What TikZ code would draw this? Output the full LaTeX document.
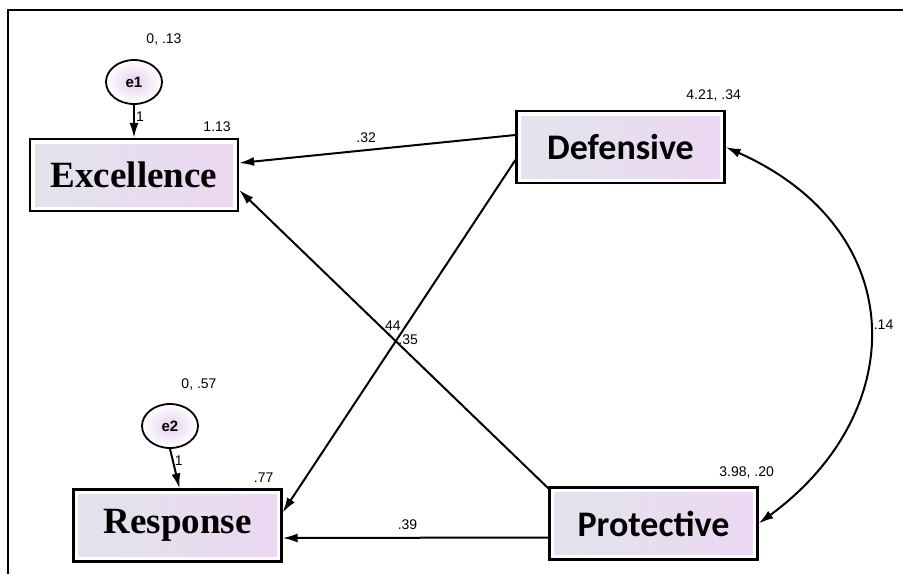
\documentclass[tikz,border=0pt]{standalone}
\usepackage{fontspec}
\setmainfont{Liberation Sans}
\newfontfamily\serifbf{Liberation Serif}
\newfontfamily\calibribf{Carlito}
\usetikzlibrary{positioning,arrows.meta,shapes.geometric}
\definecolor{boxleft}{HTML}{E1E4EC}
\definecolor{boxright}{HTML}{EDD7F2}
\definecolor{errpink}{HTML}{E6CFEF}

\begin{document}
\begin{tikzpicture}[
x=1pt, y=-1pt,
var/.style={
  draw,
  line width=2.2pt,
  rectangle,
  inner sep=0pt,
  minimum width=208pt,
  minimum height=72pt,
  path picture={
    \shade[left color=boxleft, right color=boxright]
      ([shift={(5pt,-5pt)}]path picture bounding box.north west) rectangle
      ([shift={(-5pt,5pt)}]path picture bounding box.south east);
    }
  },
serifvar/.style={
  var,
  font=\serifbf\bfseries\fontsize{37}{40}\selectfont
  },
sansvar/.style={
  var,
  font=\calibribf\bfseries\fontsize{36}{40}\selectfont
  },
err/.style={
  draw,
  ellipse,
  line width=1.8pt,
  inner color=errpink,
  outer color=white,
  minimum width=56pt,
  minimum height=44pt,
  inner sep=0pt,
  font=\bfseries\fontsize{15}{17}\selectfont
  },
est/.style={
  inner sep=1pt,
  font=\fontsize{14}{16}\selectfont
  },
reg/.style={
  ->,
  line width=2pt
  },
>={Latex[length=15pt,width=9pt]}
]
\useasboundingbox (0,0) rectangle (903,574);
% frame
\draw[line width=1.2pt] (8,574) -- (8,10) -- (903,10);

% observed variables
\node[serifvar] (exc) at (134,175) {Excellence};
\node[sansvar] (def) at (620.5,147) {Defensive};
\node[serifvar] (res) at (177.5,525.5) {Response};
\node[sansvar] (pro) at (653.5,523.5) {Protective};

% error terms
\node[err] (e1) at (134,82) {e1};
\node[err] (e2) at (170,426) {e2};

% estimates
\node[est, above=5pt of exc.north east, xshift=-22pt] (excest) {1.13};
\node[est, above=7pt of def.north east, xshift=-12pt] (defest) {4.21, .34};
\node[est, above=5pt of res.north east, xshift=-19pt] (resest) {.77};
\node[est, above=7pt of pro.north east, xshift=-12pt] (proest) {3.98, .20};
\node[est, above=13pt of e1.north, xshift=30pt] (e1est) {0, .13};
\node[est, above=12pt of e2.north, xshift=29pt] (e2est) {0, .57};

% paths
\draw[reg] (e1) -- node[est, right, pos=0.35] {1} (exc);
\draw[reg] (e2.south) -- node[est, right, pos=0.3] {1} ([xshift=2pt]res.north);
\draw[reg] ([yshift=12pt]def.west) -- node[est, above=5pt, pos=0.54] {.32} ([yshift=12pt]exc.east);
\draw[reg] ([yshift=-2pt]pro.north west) -- node[est, pos=0.544, anchor=west, xshift=-1pt] {.44} ([yshift=-15pt]exc.east);
\draw[reg] ([yshift=-13pt]def.west) -- node[est, pos=0.511, anchor=west] {.35} ([yshift=13pt]res.east);
\draw[reg] ([yshift=-14pt]pro.west) -- node[est, above=6pt, pos=0.53] {.39} ([yshift=-12.5pt]res.east);
\draw[<->, line width=2pt] (def.east) .. controls +(186,83) and +(152,-111) .. node[est, right=3pt, pos=0.5] {.14} (pro.east);
\end{tikzpicture}
\end{document}
